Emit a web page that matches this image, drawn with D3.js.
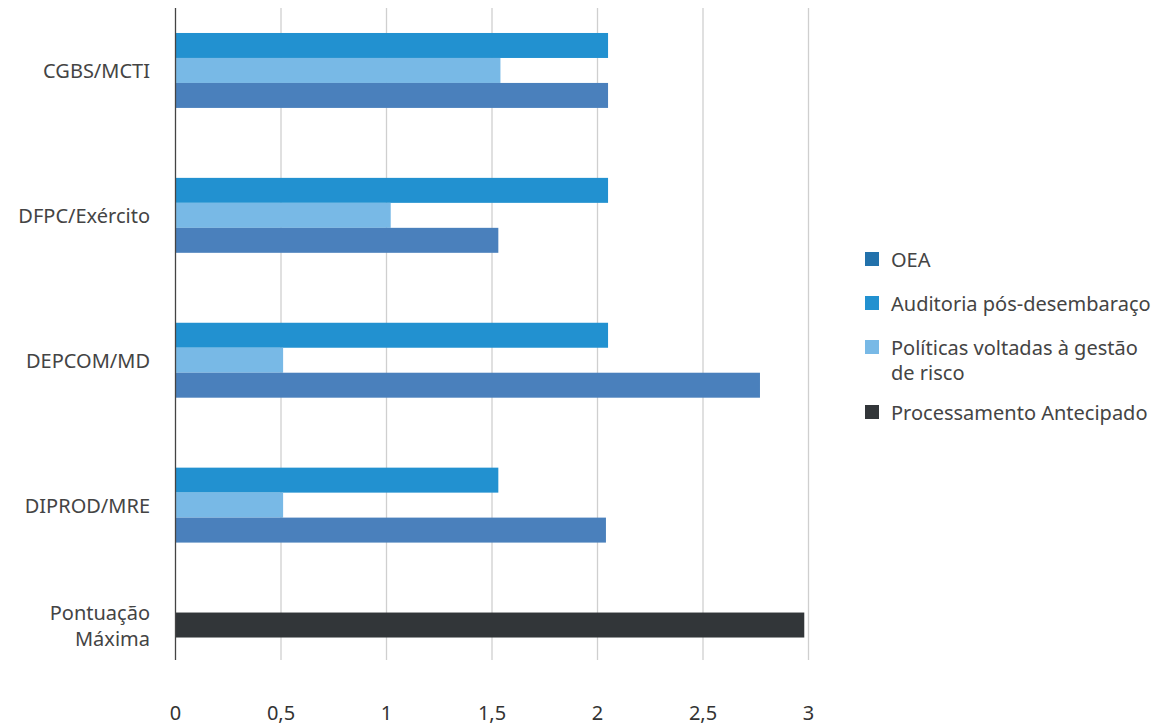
<!DOCTYPE html>
<html>
<head>
<meta charset="utf-8">
<script src="https://cdn.jsdelivr.net/npm/d3@7"></script>
<style>
  html, body { margin: 0; padding: 0; background: #fff; }
  svg { display: block; }
  text { font-family: "Noto Sans", "Open Sans", sans-serif; }
</style>
</head>
<body>
<svg id="chart" width="1166" height="724"></svg>
<script>
// ---- data ----
const categories = ["CGBS/MCTI", "DFPC/Exército", "DEPCOM/MD", "DIPROD/MRE", "Pontuação Máxima"];
const seriesNames = ["OEA", "Auditoria pós-desembaraço", "Políticas voltadas à gestão de risco", "Processamento Antecipado"];
// values per category, series order as above (null = no bar)
const oea        = [2.05, 1.53, 2.77, 2.04, null];
const auditoria  = [2.05, 2.05, 2.05, 1.53, null];
const politicas  = [1.54, 1.02, 0.51, 0.51, null];
const processam  = [null, null, null, null, 2.98];
const xTicks = [0, 0.5, 1, 1.5, 2, 2.5, 3];
// drawing order of bars within a group (top to bottom)
const barOrder = [1, 2, 0, 3];
const barColors = ["#4a80bc", "#2291d0", "#78b9e6", "#323639"];
const legendColors = ["#2271ab", "#2291d0", "#78b9e6", "#323639"];

const seriesValues = [oea, auditoria, politicas, processam];

// ---- layout ----
const svg = d3.select("#chart");
const plotLeft = 175.5, plotRight = 808.5, plotTop = 8, plotBottom = 660;

const x = d3.scaleLinear().domain([0, 3]).range([plotLeft, plotRight]);

// rows: each bar is one unit, groups separated by a gap
const topPad = 1, gap = 2.8, bottomPad = 0.9;
const groups = categories.map((c, i) => {
  const bars = barOrder.filter(s => seriesValues[s][i] != null).map(s => ({ s, v: seriesValues[s][i] }));
  return { c, i, bars };
});
let cursor = topPad;
groups.forEach((g, gi) => {
  g.start = cursor;
  g.bars.forEach((b, k) => { b.row = cursor + k; });
  cursor += g.bars.length;
  g.end = cursor;
  if (gi < groups.length - 1) cursor += gap;
});
const totalUnits = cursor + bottomPad;
const y = d3.scaleLinear().domain([0, totalUnits]).range([plotTop, plotBottom]);

// gridlines
svg.append("g")
  .selectAll("line")
  .data(xTicks.filter(t => t > 0))
  .join("line")
  .attr("x1", d => x(d)).attr("x2", d => x(d))
  .attr("y1", plotTop).attr("y2", plotBottom)
  .attr("stroke", "#cfcfcf").attr("stroke-width", 1.3);

// bars
const barG = svg.append("g");
groups.forEach(g => {
  barG.selectAll(null)
    .data(g.bars)
    .join("rect")
    .attr("x", x(0))
    .attr("y", d => y(d.row))
    .attr("width", d => x(d.v) - x(0))
    .attr("height", d => y(d.row + 1) - y(d.row))
    .attr("fill", d => barColors[d.s]);
});

// y axis line
svg.append("line")
  .attr("x1", x(0)).attr("x2", x(0))
  .attr("y1", plotTop).attr("y2", plotBottom)
  .attr("stroke", "#444").attr("stroke-width", 1.3);

// x tick labels
const fmt = d => String(d).replace(".", ",");
svg.append("g")
  .selectAll("text")
  .data(xTicks)
  .join("text")
  .attr("x", d => x(d))
  .attr("y", 712)
  .attr("text-anchor", "middle")
  .attr("dominant-baseline", "central")
  .attr("font-size", 20)
  .attr("fill", "#333")
  .text(fmt);

// category labels
const catG = svg.append("g");
groups.forEach(g => {
  const cy = y((g.start + g.end) / 2);
  const words = g.c === "Pontuação Máxima" ? ["Pontuação", "Máxima"] : [g.c];
  const lh = 26;
  words.forEach((w, k) => {
    catG.append("text")
      .attr("x", 150)
      .attr("y", cy + (k - (words.length - 1) / 2) * lh)
      .attr("text-anchor", "end")
      .attr("dominant-baseline", "central")
      .attr("font-size", 20)
      .attr("fill", "#444")
      .text(w);
  });
});

// legend
const legendItems = [
  { s: 0, lines: ["OEA"] },
  { s: 1, lines: ["Auditoria pós-desembaraço"] },
  { s: 2, lines: ["Políticas voltadas à gestão", "de risco"] },
  { s: 3, lines: ["Processamento Antecipado"] }
];
const legG = svg.append("g");
let ly = 259;
legendItems.forEach(item => {
  legG.append("rect")
    .attr("x", 865).attr("y", ly - 7)
    .attr("width", 14).attr("height", 14)
    .attr("fill", legendColors[item.s]);
  item.lines.forEach((t, k) => {
    legG.append("text")
      .attr("x", 891)
      .attr("y", ly + k * 25)
      .attr("dominant-baseline", "central")
      .attr("font-size", 20)
      .attr("fill", "#444")
      .text(t);
  });
  ly += 44 + (item.lines.length - 1) * 21;
});
</script>
</body>
</html>
